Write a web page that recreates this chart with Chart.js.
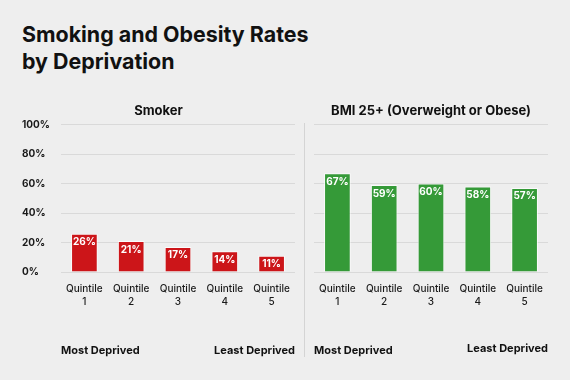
<!DOCTYPE html>
<html>
<head>
<meta charset="utf-8">
<script src="https://cdn.jsdelivr.net/npm/chart.js@4/dist/chart.umd.min.js"></script>
<style>
html,body{margin:0;padding:0;background:#eeeeee;}
body{width:570px;height:380px;position:relative;overflow:hidden;font-family:Inter,"Noto Sans",sans-serif;}
#title{position:absolute;left:22px;top:21px;font-size:21.4px;font-weight:700;line-height:27px;color:#111;letter-spacing:0px;}
.box{position:absolute;top:96px;height:274px;}
#leftBox{left:0;width:304px;}
#rightBox{left:304px;width:266px;}
#sep{position:absolute;left:304px;top:123px;width:1px;height:234px;background:#d4d4d4;}
</style>
</head>
<body>
<div id="title">Smoking and Obesity Rates<br>by Deprivation</div>
<div id="sep"></div>
<div class="box" id="leftBox"><canvas id="c1"></canvas></div>
<div class="box" id="rightBox"><canvas id="c2"></canvas></div>
<script>
const categories = [["Quintile","1"],["Quintile","2"],["Quintile","3"],["Quintile","4"],["Quintile","5"]];
const smokerValues = [26, 21, 17, 14, 11];
const bmiValues = [67, 59, 60, 58, 57];
const yTicks = [0, 20, 40, 60, 80, 100];
const leftTitle = "Smoker";
const rightTitle = "BMI 25+ (Overweight or Obese)";
const endLabels = ["Most Deprived", "Least Deprived"];

const FONT = "Inter, 'Noto Sans', sans-serif";

const valueLabels = {
  id: 'valueLabels',
  afterDatasetsDraw(chart) {
    const ctx = chart.ctx;
    const meta = chart.getDatasetMeta(0);
    const data = chart.data.datasets[0].data;
    ctx.save();
    ctx.fillStyle = '#ffffff';
    ctx.font = "bold 10px " + FONT;
    ctx.textAlign = 'center';
    ctx.textBaseline = 'middle';
    meta.data.forEach((bar, i) => {
      ctx.fillText(data[i] + '%', bar.x, bar.y + 8.5);
    });
    ctx.restore();
  }
};

const bottomLabels = {
  id: 'bottomLabels',
  afterDraw(chart, args, opts) {
    const ctx = chart.ctx;
    const a = chart.chartArea;
    ctx.save();
    ctx.fillStyle = '#111111';
    ctx.font = "bold 11px " + FONT;
    ctx.textBaseline = 'middle';
    ctx.textAlign = 'left';
    ctx.fillText(endLabels[0], a.left, opts.yLeft);
    ctx.textAlign = 'right';
    ctx.fillText(endLabels[1], a.right, opts.yRight);
    ctx.restore();
  }
};

function makeChart(id, title, values, color, showY, pad, yL, yR) {
  return new Chart(document.getElementById(id), {
    type: 'bar',
    data: {
      labels: categories,
      datasets: [{
        data: values,
        backgroundColor: color,
        borderColor: 'rgba(255,255,255,0.75)',
        borderWidth: 1,
        borderSkipped: 'bottom',
        categoryPercentage: 1,
        barPercentage: 0.57
      }]
    },
    options: {
      responsive: true,
      maintainAspectRatio: false,
      animation: false,
      layout: { padding: pad },
      plugins: {
        legend: { display: false },
        tooltip: { enabled: false },
        title: {
          display: true,
          text: title,
          color: '#111111',
          font: { family: FONT, size: 13, weight: 'bold' },
          padding: { top: 7, bottom: 6 }
        },
        bottomLabels: { yLeft: yL, yRight: yR }
      },
      scales: {
        x: {
          grid: { display: false, drawTicks: false },
          border: { display: false },
          ticks: {
            color: '#1a1a1a',
            font: { family: FONT, size: 10, weight: '500', lineHeight: 1.3 },
            padding: 10,
            maxRotation: 0,
            autoSkip: false
          },
          afterFit(s) { s.height = 40; }
        },
        y: {
          min: 0, max: 100,
          afterBuildTicks(s) { s.ticks = yTicks.map(v => ({ value: v })); },
          grid: { color: '#d9d9d9', lineWidth: 1, drawTicks: false },
          border: { display: false },
          ticks: {
            display: showY,
            color: '#1a1a1a',
            font: { family: FONT, size: 10, weight: 'bold' },
            crossAlign: 'far',
            padding: 0,
            callback: v => v + '%'
          },
          afterFit(s) { s.width = showY ? 39 : 0; }
        }
      }
    },
    plugins: [valueLabels, bottomLabels]
  });
}

makeChart('c1', leftTitle, smokerValues, '#cc1519', true, { left: 22, right: 9, top: 0, bottom: 58 }, 255, 255);
makeChart('c2', rightTitle, bmiValues, '#359a38', false, { left: 10, right: 22, top: 0, bottom: 58 }, 255, 253);
</script>
</body>
</html>
